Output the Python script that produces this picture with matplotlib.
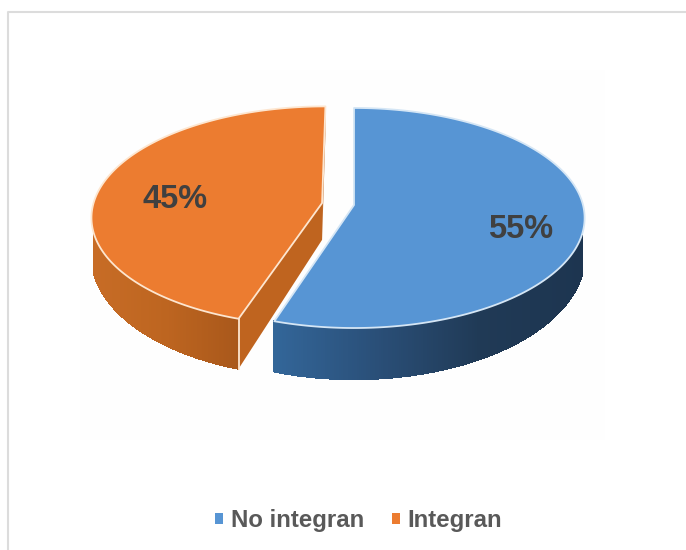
import numpy as np
import matplotlib
matplotlib.use("Agg")
import matplotlib.pyplot as plt
from matplotlib.collections import PolyCollection
from matplotlib.colors import to_rgb
from matplotlib.patches import Patch, Rectangle, Polygon

plt.rcParams['font.family'] = ['Liberation Sans', 'DejaVu Sans']

labels = ['No integran', 'Integran']
values = [55, 45]

colors = ['#5795d4', '#ec7c30']
edge_colors = ['#d5e6f5', '#fde6d0']
# wall shading, left to right
wall_stops = [['#336699', '#2a4f78', '#203a56', '#1d3550'],
              ['#c76c26', '#bd6520', '#a9581b']]

# projection of the pie onto the page, in pixels
CX, CY = 354, 205
RX, RY = 229, 108.5
TILT = 0.118
DEPTH = 37
explode = [(0, 0), (-32, -0.018)]


def project(u, v, shift=(0, 0)):
    p = 1 / (1 - TILT * (v + shift[1]))
    x = CX + (RX * u + shift[0]) * p
    y = CY + RY * (v + shift[1]) * p
    return x, y, y + DEPTH * p ** 2.6


def shade(stops, f):
    rgb = np.array([to_rgb(c) for c in stops])
    pos = np.linspace(0, 1, len(stops))
    return [np.interp(f, pos, rgb[:, n]) for n in range(3)]


fig = plt.figure(figsize=(6.86, 5.5), dpi=100)
ax = fig.add_axes([0, 0, 1, 1])
ax.set_xlim(0, 686)
ax.set_ylim(550, 0)
ax.axis('off')

# only the top and left of the outer frame show
ax.plot([8, 8, 686], [550, 12, 12], color='#dcdcdc', lw=1.5)
ax.add_patch(Rectangle((80, 70), 525, 370, fc='#fefefe', ec='none'))

start = 0
slices = []
for val in values:
    slices.append((start, start + val / sum(values) * 2 * np.pi))
    start = slices[-1][1]

for i in [1, 0]:
    a0, a1 = slices[i]
    shift = explode[i]
    t = np.linspace(a0, a1, 400)
    x, y, yb = project(np.sin(t), -np.cos(t), shift)
    ax0, ay0, ayb = project(0, 0, shift)

    # straight cut walls first
    for k in ([-1, 0] if i == 1 else [0]):
        ax.add_patch(Polygon([(ax0, ay0), (x[k], y[k]), (x[k], yb[k]), (ax0, ayb)],
                             fc='#bf641f' if i == 1 else wall_stops[0][0], ec='none'))

    # outer wall as shaded strips, only the part facing the viewer
    polys, cols = [], []
    front = -np.cos(t) > 0.27
    xf = x[front]
    for j in range(len(t) - 1):
        if not (front[j] and front[j + 1]):
            continue
        polys.append([(x[j], y[j]), (x[j + 1], y[j + 1]), (x[j + 1], yb[j + 1]), (x[j], yb[j])])
        cols.append(shade(wall_stops[i], (x[j] - xf.min()) / (xf.max() - xf.min())))
    ax.add_collection(PolyCollection(polys, facecolors=cols, edgecolors=cols,
                                     linewidths=0.6, antialiaseds=False))

    # top face
    top = np.vstack([[ax0, ay0], np.column_stack([x, y])])
    ax.add_patch(Polygon(top, fc=colors[i], ec=edge_colors[i], lw=1.3, joinstyle='round'))
    if i == 1:
        ax.plot([x[0], x[0]], [y[0], yb[0]], color=edge_colors[i], lw=1.3)

    # value label
    lx = {0: 521, 1: 175}[i]
    ly = {0: 230, 1: 199}[i]
    ax.text(lx, ly, f'{values[i]}%', fontsize=23.5, fontweight='bold', color='#404040',
            ha='center', va='center')

handles = [Patch(fc=c, ec='none') for c in colors]
ax.legend(handles, labels, loc='center', bbox_to_anchor=(358.5 / 686, 1 - 521 / 550), ncol=2,
          frameon=False, prop={'size': 17.3, 'weight': 'bold'}, labelcolor='#595959',
          handlelength=0.33, handleheight=0.33, handletextpad=0.3, columnspacing=1.17)

fig.savefig('out.png', dpi=100)
